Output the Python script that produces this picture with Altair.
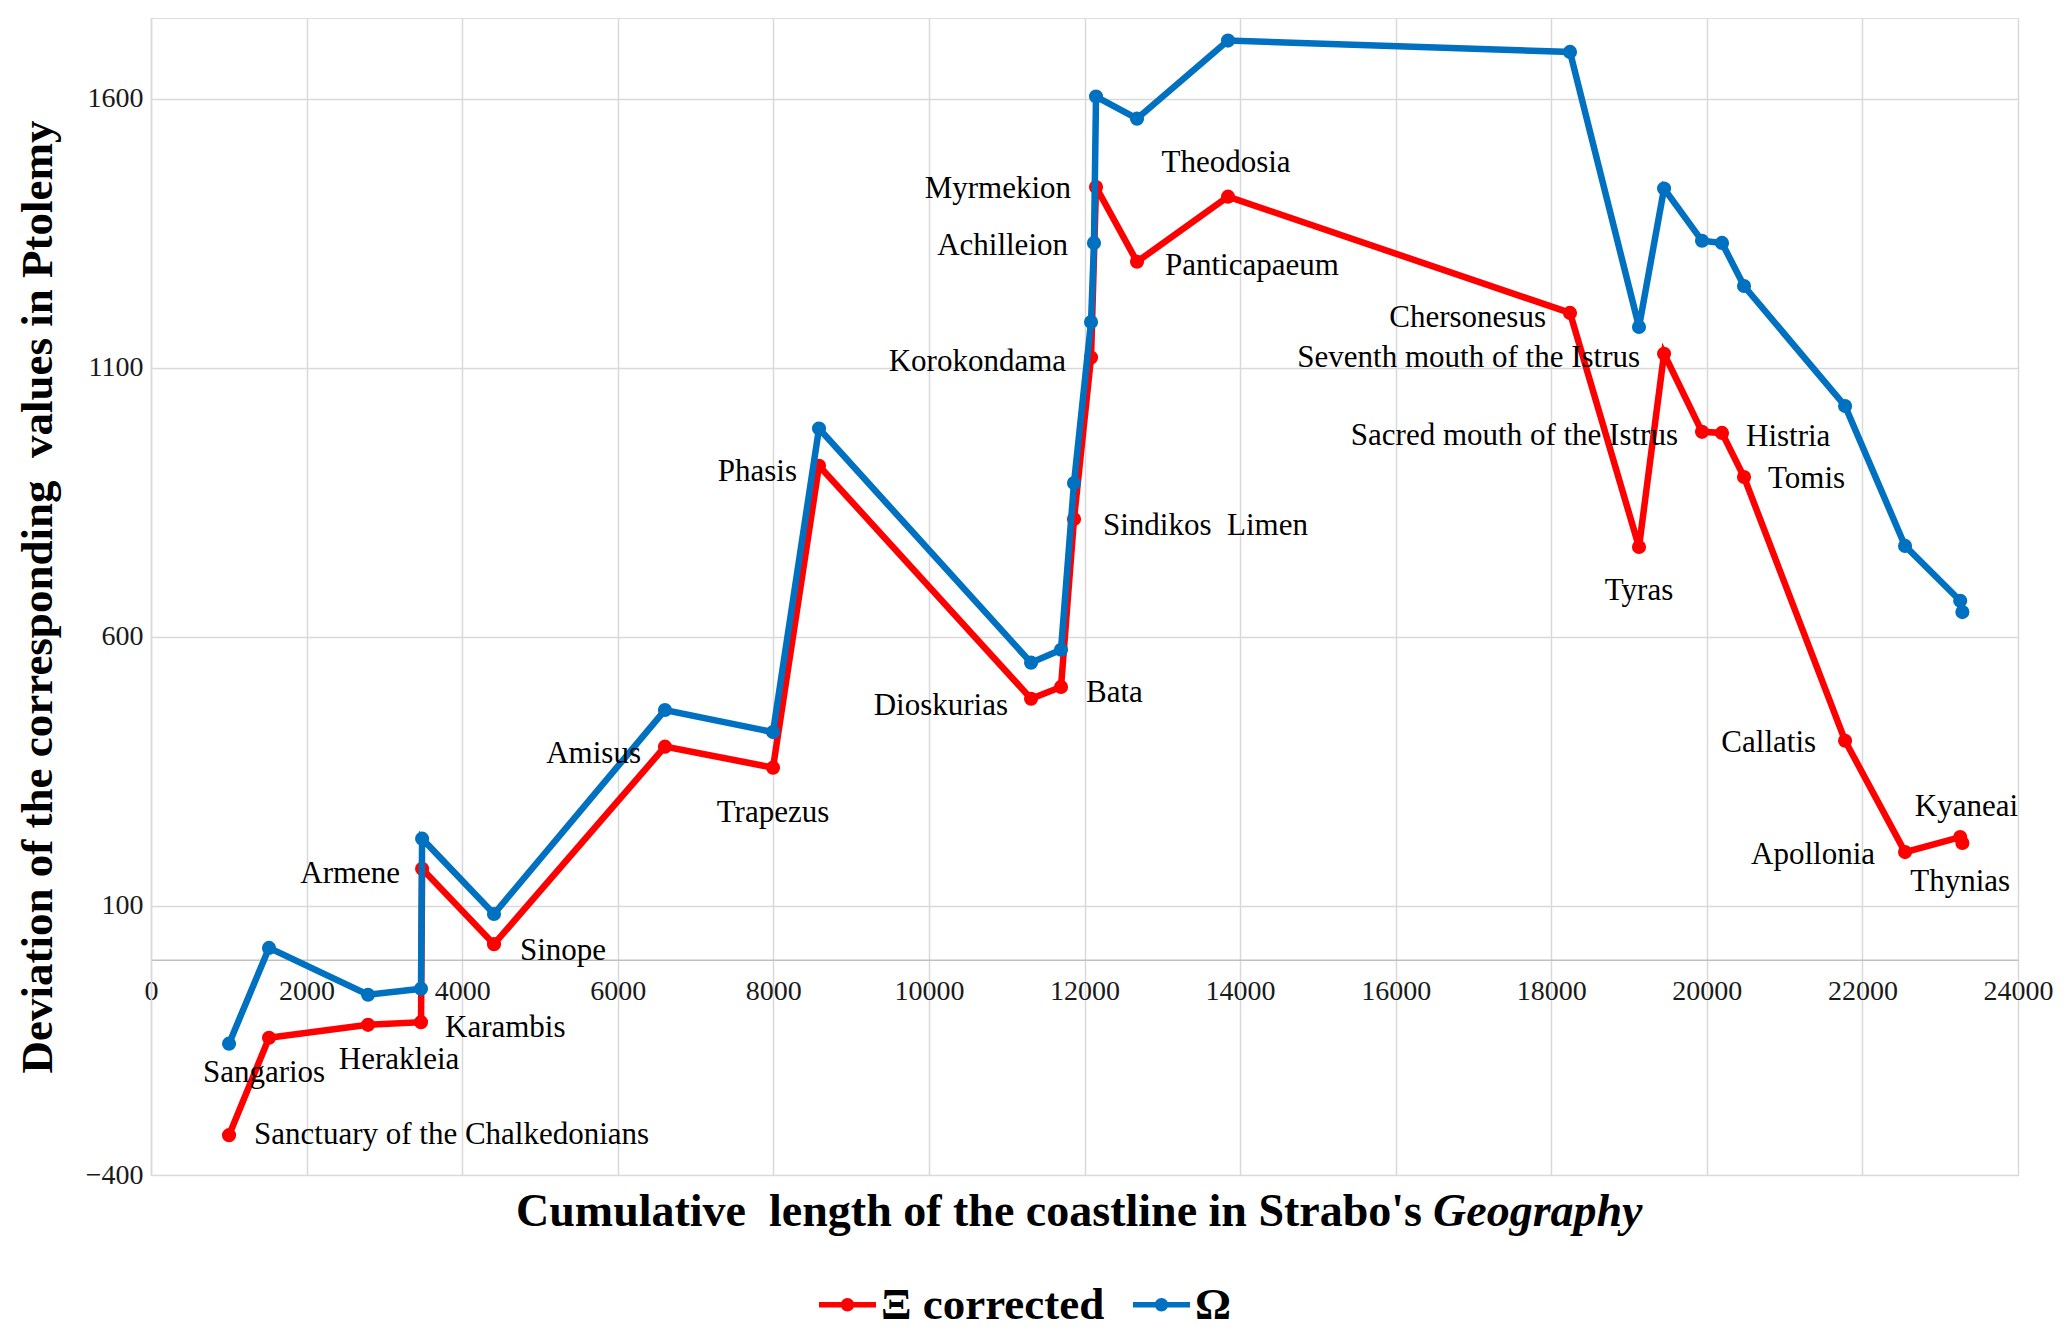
import altair as alt
import pandas as pd

# ---------------- data ----------------
places = [
    "Sanctuary of the Chalkedonians", "Sangarios", "Herakleia", "Karambis", "Armene",
    "Sinope", "Amisus", "Trapezus", "Phasis", "Dioskurias", "Bata",
    "Sindikos\u00a0 Limen", "Korokondama", "Achilleion", "Myrmekion", "Panticapaeum",
    "Theodosia", "Chersonesus", "Tyras", "Seventh mouth of the Istrus",
    "Sacred mouth of the Istrus", "Histria", "Tomis", "Callatis", "Apollonia",
    "Thynias", "Kyaneai",
]
coast_len = [1003, 1517, 2790, 3471, 3485, 4409, 6607, 7996, 8587, 11313, 11698,
             11865, 12084, 12122, 12148, 12675, 13845, 18241, 19128, 19450,
             19938, 20195, 20478, 21777, 22548, 23257, 23285]
xi_corrected = [-326, -145, -121, -116, 169, 29, 396, 357, 918, 485, 507,
                819, 1119, None, 1436, 1297, 1418, 1202, 767, 1126,
                981, 979, 897, 407, 200, 228, 217]
omega = [-156, 22, -65, -54, 225, 85, 464, 423, 987, 552, 576,
         886, 1185, 1332, 1604, 1563, 1708, 1687, 1176, 1433,
         1336, 1332, 1252, 1029, 769, 667, 646]

series_names = ["\u039e corrected", "\u03a9"]
series_colors = ["#FF0000", "#0070C0"]

x_ticks = [0, 2000, 4000, 6000, 8000, 10000, 12000, 14000, 16000, 18000, 20000, 22000, 24000]
y_ticks = [-400, 100, 600, 1100, 1600]

y_title = "Deviation of the corresponding\u00a0 values in Ptolemy"
x_title_main = "Cumulative\u00a0 length of the coastline in Strabo's"
x_title_italic = "Geography"

# ---------------- label placement (style only) ----------------
# place -> (anchor series index, align, dx px, dy px)
label_style = {
    "Sanctuary of the Chalkedonians": (0, "left", 25, 0),
    "Sangarios": (0, "center", -5, 35),
    "Herakleia": (0, "center", 31, 35),
    "Karambis": (0, "left", 24, 6),
    "Armene": (0, "right", -22, 5),
    "Sinope": (0, "left", 26, 7),
    "Amisus": (0, "right", -24, 7),
    "Trapezus": (0, "center", 0, 45),
    "Phasis": (0, "right", -22, 6),
    "Dioskurias": (0, "right", -23, 7),
    "Bata": (0, "left", 25, 6),
    "Sindikos\u00a0 Limen": (0, "left", 29, 7),
    "Korokondama": (0, "right", -25, 4),
    "Achilleion": (1, "right", -26, 3),
    "Myrmekion": (0, "right", -25, 2),
    "Panticapaeum": (0, "left", 28, 4),
    "Theodosia": (0, "center", -2, -34),
    "Chersonesus": (0, "right", -24, 5),
    "Tyras": (0, "center", 0, 44),
    "Seventh mouth of the Istrus": (0, "right", -24, 4),
    "Sacred mouth of the Istrus": (0, "right", -24, 4),
    "Histria": (0, "left", 24, 4),
    "Tomis": (0, "left", 24, 2),
    "Callatis": (0, "right", -29, 2),
    "Apollonia": (0, "right", -30, 3),
    "Thynias": (0, "center", 0, 45),
    "Kyaneai": (0, "center", 4, -36),
}

FONT = "Liberation Serif"
W, H = 1867, 1157
Y_MIN, Y_MAX = -400, 1750

# ---------------- tables ----------------
rows = []
for s_i, (sname, vals) in enumerate(zip(series_names, [xi_corrected, omega])):
    for i, (p, x, v) in enumerate(zip(places, coast_len, vals)):
        if v is None:
            continue
        rows.append({"place": p, "x": x, "value": v, "series": sname, "idx": i})
df = pd.DataFrame(rows)

lab_rows = []
for p, x, a, b in zip(places, coast_len, xi_corrected, omega):
    s_i = label_style[p][0]
    lab_rows.append({"name": p, "x": x, "value": [a, b][s_i]})
lab_df = pd.DataFrame(lab_rows)

# ---------------- scales / axes ----------------
x_scale = alt.Scale(domain=[0, 24000], nice=False, zero=False)
y_scale = alt.Scale(domain=[Y_MIN, Y_MAX], nice=False, zero=False)
color_scale = alt.Scale(domain=series_names, range=series_colors)

x_axis = alt.Axis(
    values=x_ticks, format="d", title=None,
    offset=-H * (0 - Y_MIN) / (Y_MAX - Y_MIN),
    grid=True, gridColor="#d9d9d9", gridWidth=1.5,
    domain=True, domainColor="#bfbfbf", domainWidth=1.5,
    ticks=False, labelFont=FONT, labelFontSize=28, labelColor="#1a1a1a",
    labelPadding=18, labelFlush=False,
)
y_axis = alt.Axis(
    values=y_ticks, format="d", title=y_title,
    titleFont=FONT, titleFontSize=45, titleFontWeight="bold", titleColor="black",
    titlePadding=25,
    grid=True, gridColor="#d9d9d9", gridWidth=1.5,
    domain=True, domainColor="#d9d9d9", domainWidth=1.5,
    ticks=False, labelFont=FONT, labelFontSize=28, labelColor="#1a1a1a",
    labelPadding=8,
)

X = alt.X("x:Q", scale=x_scale, axis=x_axis)
Y = alt.Y("value:Q", scale=y_scale, axis=y_axis)

legend_symbol = ("M-1,-0.095L1,-0.095L1,0.095L-1,0.095Z "
                 "M0.235,0A0.235,0.235 0 1,1 -0.235,0A0.235,0.235 0 1,1 0.235,0Z")
legend = alt.Legend(
    title=None, orient="none", legendX=668, legendY=1258, direction="horizontal",
    symbolType=legend_symbol, symbolSize=3249, symbolStrokeWidth=0, symbolOpacity=1,
    labelFont=FONT, labelFontSize=45, labelFontWeight="bold", labelColor="black",
    labelOffset=5, columnPadding=28, labelLimit=600,
)
C = alt.Color("series:N", scale=color_scale, legend=legend)

base = alt.Chart(df)
layers = []
for sname, col in zip(series_names, series_colors):
    sub = base.transform_filter(alt.datum.series == sname)
    layers.append(sub.mark_line(color=col, strokeWidth=6.5).encode(x=X, y=Y, order="idx:Q"))
    layers.append(sub.mark_circle(size=200, opacity=1).encode(x=X, y=Y, color=C))

lab_base = alt.Chart(lab_df)
for p in places:
    _, align, dx, dy = label_style[p]
    layers.append(
        lab_base.transform_filter(alt.datum.name == p)
        .mark_text(align=align, baseline="middle", dx=dx, dy=dy,
                   font=FONT, fontSize=31, color="black")
        .encode(x=X, y=Y, text="name:N")
    )

title_df = pd.DataFrame({"main": [x_title_main], "ital": [x_title_italic]})
layers.append(
    alt.Chart(title_df).mark_text(align="right", baseline="middle", font=FONT,
                                  fontSize=46, fontWeight="bold", color="black")
    .encode(x=alt.value(1271), y=alt.value(1194), text="main:N")
)
layers.append(
    alt.Chart(title_df).mark_text(align="left", baseline="middle", font=FONT,
                                  fontSize=46, fontWeight="bold", fontStyle="italic",
                                  color="black")
    .encode(x=alt.value(1282), y=alt.value(1194), text="ital:N")
)

chart = alt.layer(*layers).properties(
    width=W, height=H,
    padding={"left": 7, "top": 10, "right": 4, "bottom": 0},
).configure_view(stroke=None).configure(background="white")

chart.save("out.html", embed_options={"renderer": "svg", "actions": False})
